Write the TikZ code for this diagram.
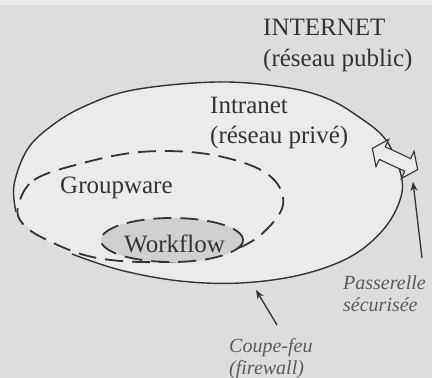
\documentclass[tikz,border=0pt]{standalone}
\usepackage{fontspec}
\setmainfont{Liberation Serif}
\usetikzlibrary{arrows.meta}
\definecolor{bgcol}{HTML}{DDDDDF}
\definecolor{topband}{HTML}{EAEAEA}
\definecolor{innercol}{HTML}{EBEBEB}
\definecolor{wfcol}{HTML}{D0D0D0}
\definecolor{ink}{HTML}{333333}
\definecolor{softink}{HTML}{5A5A5A}
\tikzset{
  bigtext/.style={font=\fontsize{25}{28}\selectfont, text=ink, inner sep=0pt, anchor=base west},
  smalltext/.style={font=\fontsize{20}{23}\selectfont\itshape, text=softink, inner sep=0pt, anchor=base west},
  solidline/.style={draw=ink, line width=1.4pt},
  dashline/.style={draw=ink, line width=1.8pt, dash pattern=on 18pt off 9pt},
  pointer/.style={draw=ink, line width=1.3pt, -{Stealth[length=9pt,width=7pt]}},
  gate/.style={draw=ink, line width=1.1pt, fill=white!92!black, line join=miter}
}
\begin{document}
\begin{tikzpicture}[x=1pt,y=-1pt]
\useasboundingbox (0,0) rectangle (432,378);
\fill[bgcol] (0,0) rectangle (432,378);
\fill[topband] (0,0) rectangle (432,5);
% outer shape (intranet): fill closed, stroke open (left-bottom shared with groupware)
\fill[innercol] plot[smooth cycle, tension=0.6] coordinates {
  (216,82) (283,87) (326,98) (359,117) (386,140) (401,175) (400,200) (383,230)
  (350,257) (300,275) (240,283) (180,281) (120,270) (70,253) (40,236) (18,216)
  (14,185) (27,150) (50,127) (83,107) (133,90)};
\path[solidline] plot[smooth, tension=0.6] coordinates {
  (16,212) (14,185) (27,150) (50,127) (83,107) (133,90) (216,82) (283,87) (326,98)
  (359,117) (386,140) (401,175) (400,200) (383,230) (350,257) (300,275) (240,283)
  (180,281) (120,270) (72,254)};
% groupware
\path[dashline] plot[smooth cycle, tension=0.6] coordinates {
  (18,207) (34,180) (83,163) (140,152) (200,153) (250,165) (276,182) (283,205)
  (268,228) (243,246) (200,259) (140,262) (88,256) (45,239) (23,224)};
% workflow
\path[dashline, fill=wfcol] (172,240) ellipse [x radius=71, y radius=22];
% gateway double arrow
\begin{scope}[shift={(395,159)}, rotate=-25]
\path[gate] (-25,0) -- (-14,-15) -- (-14,-7) -- (14,-7) -- (14,-15) -- (25,0) -- (14,15) -- (14,7) -- (-14,7) -- (-14,15) -- cycle;
\end{scope}
% texts
\node[bigtext] (internet) at (263,35) {INTERNET};
\node[bigtext] (public) at (263,66) {(réseau public)};
\node[bigtext] (intranet) at (210,113) {Intranet};
\node[bigtext] (prive) at (210,143) {(réseau privé)};
\node[bigtext] (groupware) at (60,193) {Groupware};
\node[bigtext] (workflow) at (124,252) {Workflow};
\node[smalltext] (passerelle) at (343,289) {Passerelle};
\node[smalltext] (securisee) at (343,311) {sécurisée};
\node[smalltext] (coupefeu) at (229,352) {Coupe-feu};
\node[smalltext] (firewall) at (229,374) {(firewall)};
% pointers
\coordinate (pgfrom) at (422,258);
\coordinate (pgto) at (413,182);
\coordinate (cffrom) at (277,325);
\coordinate (cfto) at (256,290);
\draw[pointer] (pgfrom) -- (pgto);
\draw[pointer] (cffrom) -- (cfto);
\end{tikzpicture}
\end{document}
